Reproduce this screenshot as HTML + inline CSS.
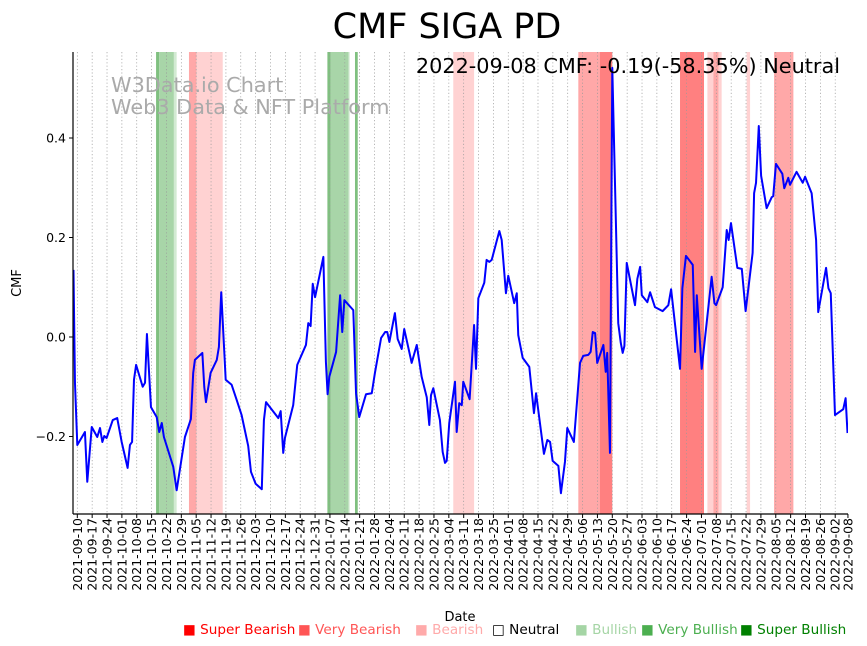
<!DOCTYPE html>
<html><head><meta charset="utf-8"><style>
body{margin:0;background:#fff;}
svg{display:block;font-family:"DejaVu Sans","Liberation Sans",sans-serif;}
</style></head><body>
<svg id="chart" width="867" height="646" viewBox="0 0 867 646">
<text x="447" y="38" font-size="35" text-anchor="middle">CMF SIGA PD</text>
<g id="bands"></g>
<g id="grid"></g>
<text x="111" y="92" font-size="20.8" fill="#aaa">W3Data.io Chart</text>
<text x="111" y="114" font-size="20.8" fill="#aaa">Web3 Data &amp; NFT Platform</text>
<g id="series"></g>
<g id="axes"></g>
<text x="840" y="73" font-size="20.8" text-anchor="end">2022-09-08 CMF: -0.19(-58.35%) Neutral</text>
<text transform="translate(21,283) rotate(-90)" font-size="13" text-anchor="middle">CMF</text>
<text x="460" y="621" font-size="13" text-anchor="middle">Date</text>
<g font-size="13.6">
<text x="183" y="634" fill="#ff0000">■ Super Bearish</text>
<text x="298" y="634" fill="#ff5555">■ Very Bearish</text>
<text x="415" y="634" fill="#ffaaaa">■ Bearish</text>
<text x="492" y="634" fill="#000">□ Neutral</text>
<text x="575" y="634" fill="#a5d5a5">■ Bullish</text>
<text x="641" y="634" fill="#4caf50">■ Very Bullish</text>
<text x="740" y="634" fill="#008000">■ Super Bullish</text>
</g>
</svg>
<script>
// days since 2021-09-10
const days=[-1.8,-1.1,0,3.6,4.7,6.8,9.4,10.7,11.8,12.7,13.8,16.7,18.8,20.9,23.7,24.8,25.8,26.7,27.7,30.8,31.9,32.8,34.7,37.4,38.6,39.8,40.8,45.2,46.8,50.7,53.5,54.6,55.4,58.9,59.8,60.6,62.8,65.7,66.7,67.8,69.9,72.7,74.8,77.4,80.5,81.8,84,86.9,87.9,88.9,94.7,95.8,97,97.8,101.7,103.6,107.7,108.8,109.9,110.9,112,115.9,117.1,117.9,118.7,121.9,123.8,124.8,125.8,130,131.3,132.8,136,138.7,140.2,143.1,145,146,147,149.6,150.9,152.8,154,157.5,159.9,162.2,164.6,165.8,166.6,167.7,170.8,172.1,173.2,174,175.2,177.9,178.7,179.9,181.1,181.8,184.8,186.9,187.8,188.9,191.7,192.8,194.1,195.2,198.8,199.9,201.9,203,205.8,207,207.7,209.8,212.9,215.1,216.1,219.8,221.4,222.7,223.9,226.6,227.8,229.7,230.8,233.9,236.8,238.3,240.7,241.8,242.8,243.9,244.9,247.8,248.9,249.6,250.9,252,254.8,256,256.9,257.7,258.8,262.7,263.8,265.1,265.9,268.5,269.8,272.1,275.7,278.4,279.7,283.9,285,286.7,289.9,291,291.8,294.1,298.8,300.1,300.9,304,305.9,306.8,307.9,310.9,313,314.8,318.1,318.8,319.7,321,322.1,324.7,327.1,327.8,329.1,332.1,333,334.9,335.7,338.8,341.7,342.8,345.9,348,349,352.7,353.8,354.9,356.9,360.8,361.9,362.8];
const cmf=[0.135,-0.092,-0.217,-0.191,-0.291,-0.181,-0.201,-0.183,-0.211,-0.199,-0.203,-0.167,-0.163,-0.211,-0.263,-0.217,-0.211,-0.086,-0.056,-0.1,-0.092,0.006,-0.141,-0.161,-0.191,-0.173,-0.201,-0.261,-0.308,-0.201,-0.165,-0.072,-0.046,-0.032,-0.1,-0.131,-0.072,-0.046,-0.02,0.09,-0.086,-0.096,-0.123,-0.157,-0.219,-0.271,-0.295,-0.306,-0.167,-0.131,-0.163,-0.149,-0.233,-0.203,-0.137,-0.056,-0.016,0.028,0.022,0.107,0.08,0.161,-0.05,-0.115,-0.08,-0.03,0.084,0.01,0.074,0.054,-0.113,-0.161,-0.115,-0.113,-0.072,-0.002,0.01,0.01,-0.01,0.048,-0.004,-0.024,0.016,-0.052,-0.016,-0.08,-0.121,-0.177,-0.117,-0.103,-0.167,-0.231,-0.253,-0.249,-0.173,-0.09,-0.191,-0.133,-0.137,-0.09,-0.125,0.024,-0.064,0.078,0.109,0.155,0.151,0.155,0.213,0.195,0.088,0.123,0.068,0.088,0.004,-0.042,-0.06,-0.153,-0.113,-0.235,-0.207,-0.211,-0.249,-0.259,-0.314,-0.251,-0.183,-0.211,-0.052,-0.038,-0.036,-0.03,0.01,0.008,-0.052,-0.016,-0.07,-0.032,-0.233,0.541,0.028,-0.012,-0.032,-0.018,0.149,0.064,0.117,0.141,0.084,0.07,0.09,0.06,0.052,0.064,0.096,-0.064,0.098,0.163,0.145,-0.03,0.084,-0.064,0.121,0.068,0.064,0.1,0.215,0.195,0.229,0.139,0.137,0.052,0.169,0.289,0.31,0.424,0.324,0.259,0.281,0.283,0.348,0.328,0.299,0.32,0.306,0.332,0.31,0.322,0.289,0.195,0.05,0.139,0.098,0.088,-0.157,-0.145,-0.123,-0.193];
const bandStart=[37.1,38.6,45.5,52.6,56.2,117.8,119.4,127.8,130.8,177.1,236,246.2,283.9,296.8,299.6,302.1,315.3,328.2];
const bandEnd=[38.6,45.5,46.8,56.2,68.5,119.4,127.8,128.3,132.1,186.9,246.2,252,295.2,299.6,302.1,303.5,316.9,337.3];
const bandSignal=["very-bullish","bullish","light-bullish","very-bearish","bearish","very-bullish","bullish","light-bullish","very-bullish","bearish","very-bearish","super-bearish","super-bearish","bearish","very-bearish","bearish","bearish","very-bearish"];
const yTicks=[0.4,0.2,0.0,-0.2];
const yTickLabels=["0.4","0.2","0.0","\u22120.2"];
const weekCount=52;

const NS="http://www.w3.org/2000/svg";
const L=73,R=848,T=52,B=514;
function xs(d){return 77.3+d*2.123;}
function ys(v){return 337-v*497.5;}
function mk(tag,attrs,parent){const e=document.createElementNS(NS,tag);for(const k in attrs)e.setAttribute(k,attrs[k]);parent.appendChild(e);return e;}
const bandColors={"super-bearish":"#ff8080","very-bearish":"#ffa8a8","bearish":"#ffd2d2","light-bullish":"#d2ead2","bullish":"#a8d5a8","very-bullish":"#80c080"};
const gB=document.getElementById('bands');
for(let i=0;i<bandStart.length;i++){
  const r=mk('rect',{x:xs(bandStart[i]),y:T,width:xs(bandEnd[i])-xs(bandStart[i]),height:B-T,fill:bandColors[bandSignal[i]]},gB);
  
  
}
const gG=document.getElementById('grid');
const gA=document.getElementById('axes');
const base=new Date(Date.UTC(2021,8,10));
function fmt(d){const t=new Date(base.getTime()+d*86400000);return t.toISOString().slice(0,10);}
const tickDays=[];for(let k=0;k<weekCount;k++)tickDays.push(k*7);tickDays.push(363);
tickDays.forEach((d,i)=>{
  const x=xs(d);
  if(i<weekCount){
    const g=mk('line',{x1:x,x2:x,y1:T,y2:B,stroke:'#999','stroke-width':0.7,'stroke-dasharray':'1.2,2.2'},gG);
    
    
  }
  const t=mk('line',{x1:x,x2:x,y1:B,y2:B+4,stroke:'#000','stroke-width':1},gA);
  
  
  const lb=mk('text',{transform:`translate(${x+4.5},518) rotate(-90)`,'font-size':12.5,'text-anchor':'end'},gA);
  lb.textContent=fmt(d);
  
  
});
yTicks.forEach((v,i)=>{
  const y=ys(v);
  const t=mk('line',{x1:L-4,x2:L,y1:y,y2:y,stroke:'#000'},gA);
  
  
  const lb=mk('text',{x:L-7,y:y+4.5,'font-size':12.5,'text-anchor':'end'},gA);
  lb.textContent=yTickLabels[i];
  
  
});
const sp1=mk('line',{x1:L,x2:L,y1:T,y2:B,stroke:'#000','stroke-width':1.2},gA);


const sp2=mk('line',{x1:L,x2:R,y1:B,y2:B,stroke:'#000','stroke-width':1.2},gA);


const gS=document.getElementById('series');
const defs=mk('defs',{},gS);
const cp=mk('clipPath',{id:'clip'},defs);
mk('rect',{x:L,y:T,width:R-L,height:B-T},cp);
const pts=days.map((d,i)=>Math.max(xs(d),L)+','+ys(cmf[i])).join(' ');
const pl=mk('polyline',{points:pts,fill:'none',stroke:'#0000ff','stroke-width':2,'stroke-linejoin':'round','clip-path':'url(#clip)'},gS);


</script>
</body></html>
